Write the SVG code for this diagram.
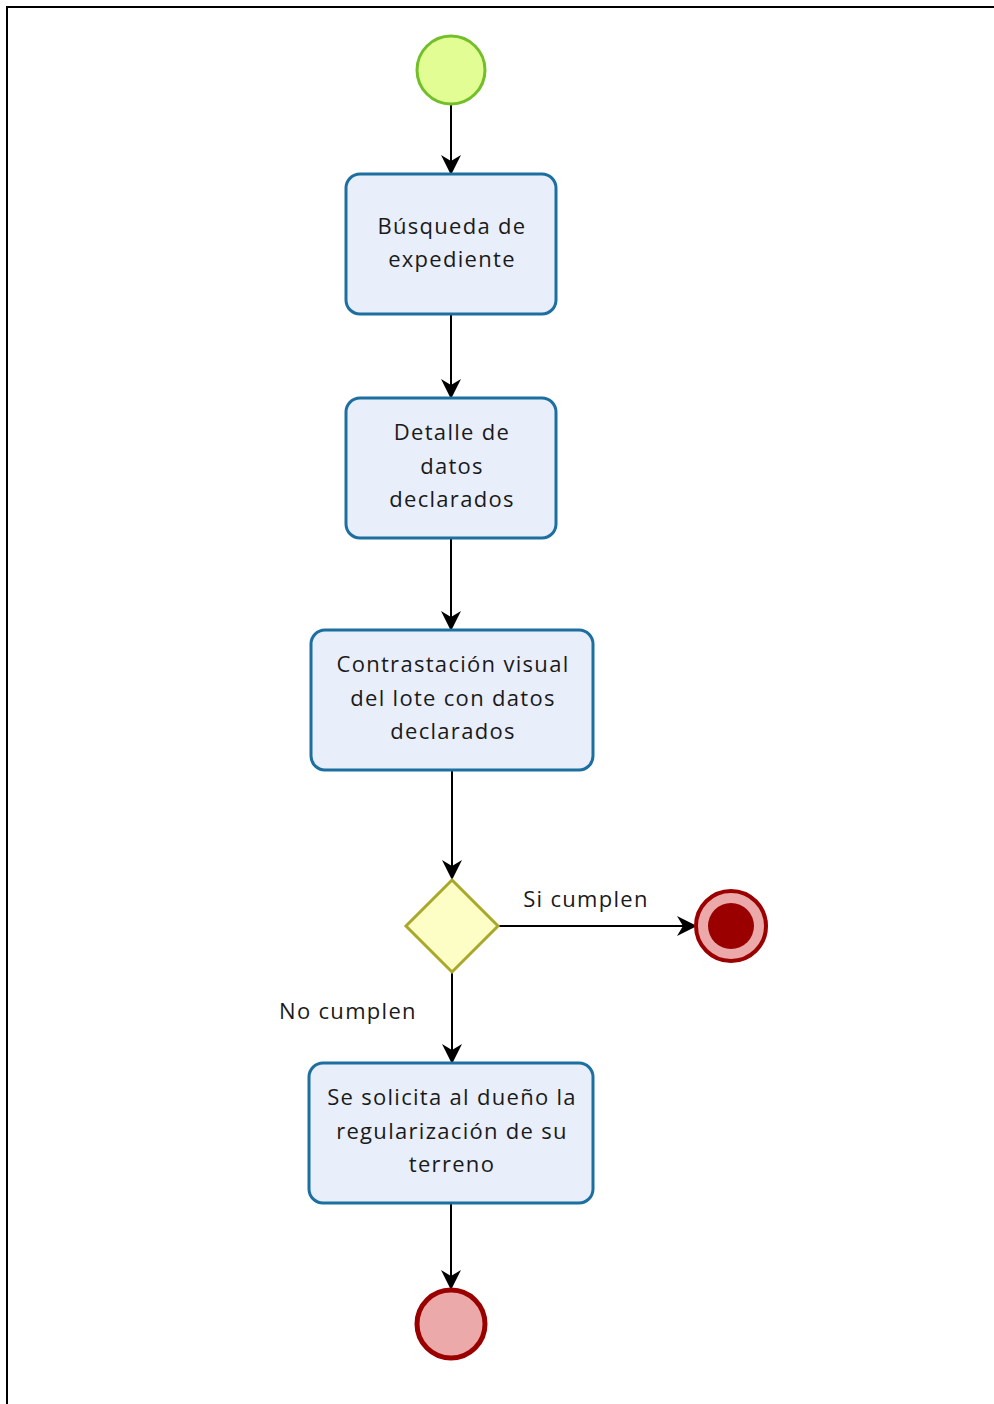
<svg xmlns="http://www.w3.org/2000/svg" width="994" height="1404" viewBox="0 0 994 1404">
<style>
.task{fill:#e9eefb;stroke:#1d6fa0;stroke-width:3}
.t{font-family:"Open Sans","Noto Sans",sans-serif;font-size:22px;letter-spacing:1.3px;fill:#1a1a1a;text-anchor:middle}
.l{font-family:"Open Sans","Noto Sans",sans-serif;font-size:22px;letter-spacing:1.3px;fill:#1a1a1a;text-anchor:middle}
.c{stroke:#000;stroke-width:2;fill:none;marker-end:url(#ah)}
</style>
<defs>
<marker id="ah" viewBox="0 0 20 20" refX="18" refY="10" markerWidth="20" markerHeight="20" markerUnits="userSpaceOnUse" orient="auto">
<path d="M0,0 L20,10 L0,20 L6,10 Z" fill="#000"/>
</marker>
</defs>
<rect width="994" height="1404" fill="#fff"/>
<path d="M7,1404 V7 H994" fill="none" stroke="#000" stroke-width="2"/>
<g id="connectors">
<path class="c" d="M451,105 V173"/>
<path class="c" d="M451,314 V397"/>
<path class="c" d="M451,538 V629"/>
<path class="c" d="M452,770 V878"/>
<path class="c" d="M499,926 H695"/>
<path class="c" d="M452,973 V1062"/>
<path class="c" d="M451,1203 V1288"/>
<text class="l" x="586" y="907">Si cumplen</text>
<text class="l" x="348" y="1019">No cumplen</text>
</g>
<g id="start"><circle cx="451" cy="70" r="34" fill="#e1fd93" stroke="#73bf2a" stroke-width="3"/></g>
<g id="task1"><rect class="task" x="346" y="174" width="210" height="140" rx="14"/>
<text class="t" x="452" y="234">Búsqueda de</text><text class="t" x="452" y="267">expediente</text></g>
<g id="task2"><rect class="task" x="346" y="398" width="210" height="140" rx="14"/>
<text class="t" x="452" y="440">Detalle de</text><text class="t" x="452" y="474">datos</text><text class="t" x="452" y="507">declarados</text></g>
<g id="task3"><rect class="task" x="311" y="630" width="282" height="140" rx="14"/>
<text class="t" x="453" y="672">Contrastación visual</text><text class="t" x="453" y="706">del lote con datos</text><text class="t" x="453" y="739">declarados</text></g>
<g id="gateway"><path d="M452,880 L498,926 L452,972 L406,926 Z" fill="#fdfdc6" stroke="#aaa82a" stroke-width="3"/></g>
<g id="end-terminate"><circle cx="731" cy="926" r="35" fill="#eca9a9" stroke="#9b0000" stroke-width="4"/><circle cx="731" cy="926" r="23" fill="#9b0000"/></g>
<g id="task4"><rect class="task" x="309" y="1063" width="284" height="140" rx="14"/>
<text class="t" x="452" y="1105">Se solicita al dueño la</text><text class="t" x="452" y="1139">regularización de su</text><text class="t" x="452" y="1172">terreno</text></g>
<g id="end"><circle cx="451" cy="1324" r="34" fill="#eca9a9" stroke="#9b0000" stroke-width="5"/></g>
</svg>
